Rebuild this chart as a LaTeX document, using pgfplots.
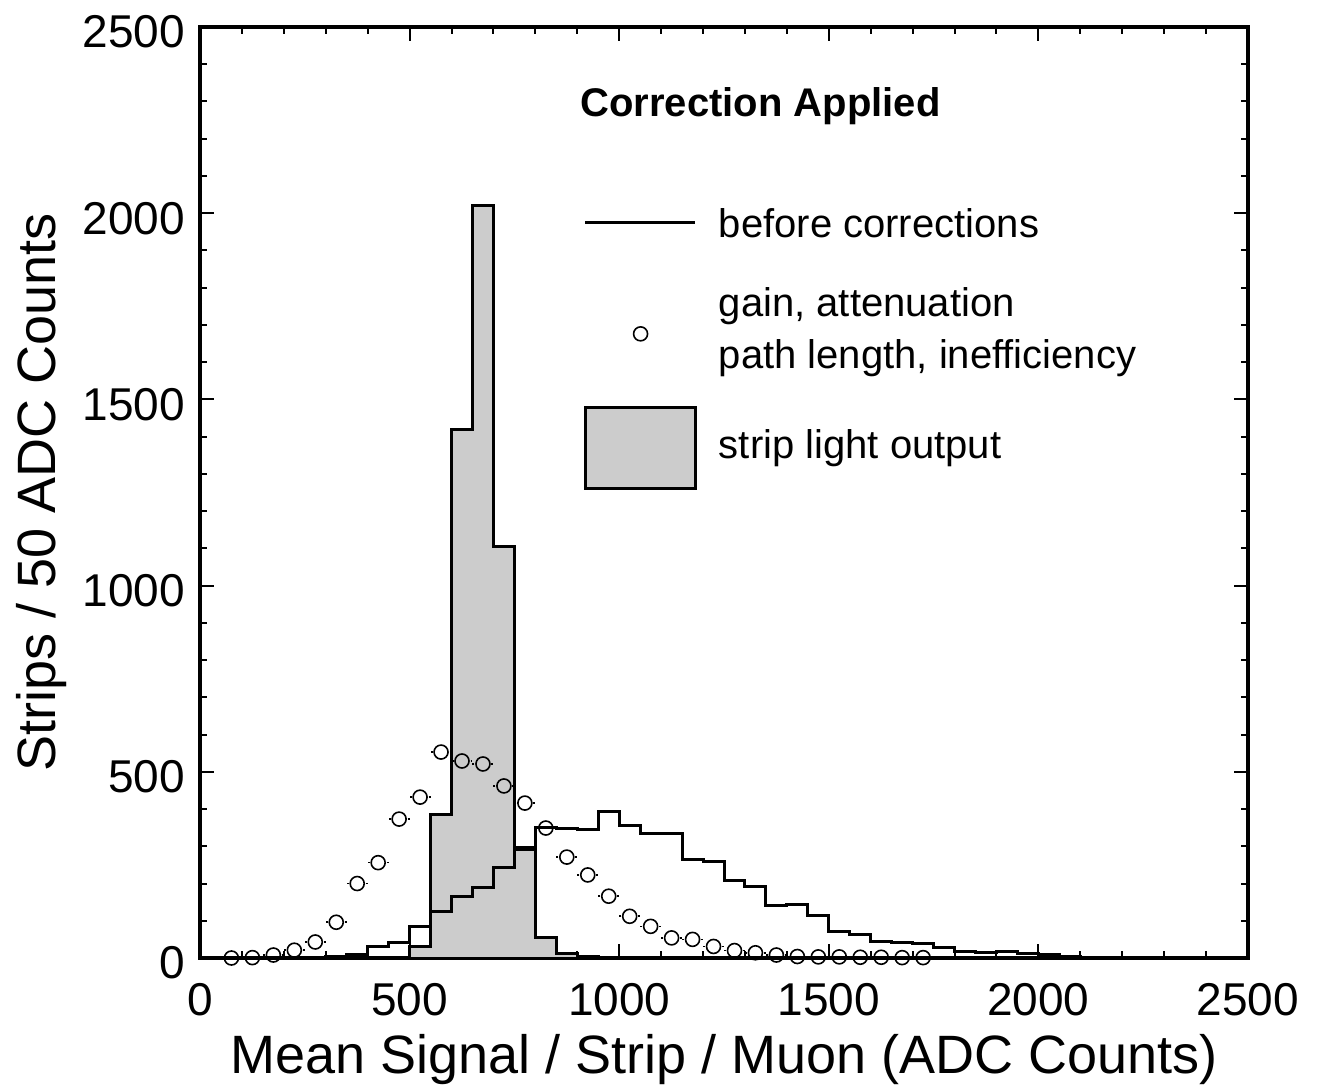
\documentclass[border=0pt]{standalone}
\usepackage{fontspec}
\setmainfont{Liberation Sans}
\usepackage{pgfplots}
\pgfplotsset{compat=1.18}

% before corrections (bin left edges, 50 ADC bins)
\pgfplotstableread{
x y
0 0
250 0
300 4
350 10
400 30
450 42
500 84
550 125
600 165
650 188
700 242
750 298
800 350
850 347
900 346
950 393
1000 357
1050 335
1100 334
1150 265
1200 260
1250 209
1300 193
1350 140
1400 145
1450 113
1500 71
1550 64
1600 44
1650 41
1700 40
1750 28
1800 17
1850 16
1900 17
1950 13
2000 10
2050 4
2100 2
2150 1
2200 0
2500 0
}\before

% strip light output
\pgfplotstableread{
x y
0 0
500 30
550 385
600 1420
650 2020
700 1105
750 292
800 55
850 13
900 3
950 0
2500 0
}\strip

% gain, attenuation, path length, inefficiency (bin centres)
\pgfplotstableread{
x y
75 0
125 1
175 8
225 21
275 43
325 96
375 200
425 256
475 373
525 432
575 553
625 529
675 521
725 462
775 416
825 349
875 271
925 223
975 166
1025 112
1075 85
1125 54
1175 50
1225 31
1275 20
1325 14
1375 8
1425 4
1475 3
1525 3
1575 2
1625 2
1675 1
1725 1
}\corr

\begin{document}
\begin{tikzpicture}
\begin{axis}[
    name=ax, at={(0,0)}, anchor=south west,
    scale only axis, width=524pt, height=465.5pt,
    xmin=0, xmax=2500, ymin=0, ymax=2500,
    xtick={0,500,...,2500}, ytick={0,500,...,2500},
    minor tick num=4,
    tick align=inside, xtick pos=both, ytick pos=both,
    major tick length=7pt, minor tick length=3.5pt,
    every tick/.style={black, line width=1pt},
    axis line style={line width=2pt},
    scaled ticks=false,
    /pgf/number format/assume math mode=true,
    /pgf/number format/set thousands separator={},
    ticklabel style={font=\fontsize{23}{28}\selectfont},
    xticklabel style={yshift=-9pt},
    yticklabel style={xshift=-4pt, yshift=-2.5pt},
    xlabel={Mean Signal / Strip / Muon (ADC Counts)},
    ylabel={Strips / 50 ADC Counts},
    label style={font=\fontsize{27}{32}\selectfont},
    xlabel style={at={(axis description cs:0.5,-0.109)}, anchor=center},
    ylabel style={at={(axis description cs:-0.151,0.5)}, anchor=center, rotate=0},
    clip=false,
]
\addplot[const plot, fill=black!20, draw=black, line width=1.5pt] table[x=x,y=y] {\strip} \closedcycle;
\addplot[const plot, draw=black, line width=1.5pt] table[x=x,y=y] {\before};
\addplot[only marks, mark=o, mark size=3.5pt, mark options={line width=0.8pt, black},
    error bars/.cd, x dir=both, x fixed=25, error mark=none,
    error bar style={line width=0.8pt, dash pattern=on 0pt off 4.25pt on 1pt off 20pt}]
    table[x=x,y=y] {\corr};

% legend
\node[font=\fontsize{20}{24}\selectfont\bfseries] at (axis cs:1337,2288) {Correction Applied};
\draw[line width=1.5pt] (axis cs:919,1974) -- (axis cs:1182,1974);
\node[anchor=west, inner sep=0pt, font=\fontsize{20}{24}\selectfont] at (axis cs:1237,1974) {before corrections};
\draw[line width=0.8pt] (axis cs:1051,1676) circle[radius=3.5pt];
\node[anchor=west, inner sep=0pt, font=\fontsize{20}{24}\selectfont] at (axis cs:1237,1751) {gain, attenuation};
\node[anchor=west, inner sep=0pt, font=\fontsize{20}{24}\selectfont] at (axis cs:1237,1611) {path length, inefficiency};
\draw[line width=1.5pt, fill=black!20] (axis cs:919,1262) rectangle (axis cs:1182,1477);
\node[anchor=west, inner sep=0pt, font=\fontsize{20}{24}\selectfont] at (axis cs:1237,1369) {strip light output};
\end{axis}
\pgfresetboundingbox
\path (-100pt,-64pt) rectangle ++(660.5pt,543pt);
\end{tikzpicture}
\end{document}
